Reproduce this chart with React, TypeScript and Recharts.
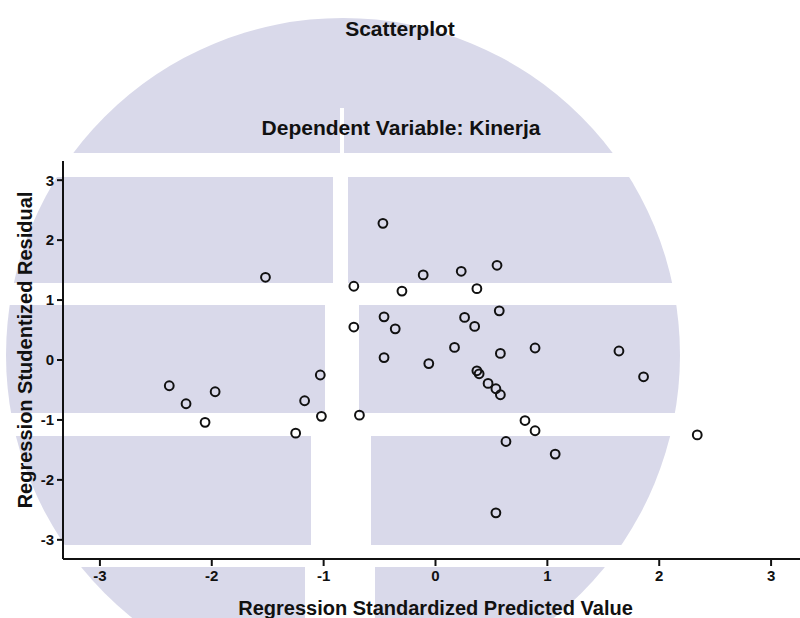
import React from 'react';
import { ScatterChart, Scatter, XAxis, YAxis, Label } from 'recharts';

// Regression standardized predicted value (x) and studentized residual (y)
const predicted = [
  -2.38, -2.23, -2.06, -1.97, -1.52, -1.25, -1.17, -1.03, -1.02, -0.73, -0.73, -0.68, -0.47, -0.46,
  -0.46, -0.36, -0.3, -0.11, -0.06, 0.17, 0.23, 0.26, 0.35, 0.37, 0.55, 0.57, 0.58, 0.37, 0.39, 0.47,
  0.54, 0.58, 0.89, 0.8, 0.89, 0.63, 1.07, 1.64, 1.86, 2.34, 0.54,
];
const residual = [
  -0.43, -0.73, -1.04, -0.53, 1.38, -1.22, -0.68, -0.25, -0.94, 1.23, 0.55, -0.92, 2.28, 0.72,
  0.04, 0.52, 1.15, 1.42, -0.06, 0.21, 1.48, 0.71, 0.56, 1.19, 1.58, 0.82, 0.11, -0.18, -0.23, -0.39,
  -0.48, -0.58, 0.2, -1.01, -1.18, -1.36, -1.57, 0.15, -0.28, -1.25, -2.55,
];
const xTicks = [-3, -2, -1, 0, 1, 2, 3];
const yTicks = [-3, -2, -1, 0, 1, 2, 3];

const points = predicted.map((x, i) => ({ x, y: residual[i] }));

const FONT = '"Liberation Sans", Arial, sans-serif';
const WM = '#d9d9ea';

// background watermark: a disc cut by white bands (y0, y1, gap left, gap right)
const Watermark = () => {
  const bands: [number, number, number, number][] = [
    [0, 108, 800, 800],
    [108, 153, 340, 344],
    [177, 283, 333, 348],
    [305, 413, 325, 359],
    [436, 545, 311, 371],
    [567, 618, 305, 375],
  ];
  return (
    <svg width={800} height={618} style={{ position: 'absolute', left: 0, top: 0 }}>
      <defs>
        <clipPath id="disc">
          <circle cx={343} cy={355} r={337} />
        </clipPath>
      </defs>
      <g clipPath="url(#disc)">
        {bands.map(([y0, y1, g0, g1], i) => (
          <g key={i}>
            <rect x={0} y={y0} width={g0} height={y1 - y0} fill={WM} />
            <rect x={g1} y={y0} width={800 - g1} height={y1 - y0} fill={WM} />
          </g>
        ))}
      </g>
    </svg>
  );
};

const Ring = (props: any) => (
  <circle cx={props.cx} cy={props.cy} r={4.4} fill="none" stroke="#111" strokeWidth={2} />
);

export default function App() {
  return (
    <div style={{ position: 'absolute', left: 0, top: 0, width: 800, height: 618, overflow: 'hidden', background: '#fff' }}>
      <Watermark />
      <svg width={800} height={160} style={{ position: 'absolute', left: 0, top: 0 }}>
        <text x={400} y={36} textAnchor="middle" fontFamily={FONT} fontWeight="bold" fontSize={21} fill="#111">
          Scatterplot
        </text>
        <text x={401} y={135} textAnchor="middle" fontFamily={FONT} fontWeight="bold" fontSize={21} fill="#111">
          Dependent Variable: Kinerja
        </text>
      </svg>
      <div style={{ position: 'absolute', left: 0, top: 0 }}>
        <ScatterChart width={820} height={618} margin={{ top: 161, right: 12, bottom: 0, left: 0 }}>
          <XAxis
            xAxisId="top"
            orientation="top"
            type="number"
            dataKey="x"
            domain={[-3.33, 3.33]}
            height={0}
            tick={false}
            tickLine={false}
            axisLine={{ stroke: '#111', strokeWidth: 2 }}
          />
          <XAxis
            type="number"
            dataKey="x"
            domain={[-3.33, 3.33]}
            ticks={xTicks}
            height={59}
            tickSize={7}
            tickMargin={4}
            axisLine={{ stroke: '#111', strokeWidth: 2 }}
            tickLine={{ stroke: '#111', strokeWidth: 2 }}
            tick={{ fill: '#111', fontFamily: FONT, fontWeight: 'bold', fontSize: 15 }}
          >
            <Label
              value="Regression Standardized Predicted Value"
              position="insideBottom"
              offset={3}
              style={{ fill: '#111', fontFamily: FONT, fontWeight: 'bold', fontSize: 20 }}
            />
          </XAxis>
          <YAxis
            type="number"
            dataKey="y"
            domain={[-3.32, 3.32]}
            ticks={yTicks}
            width={63}
            tickSize={6}
            tickMargin={3}
            axisLine={{ stroke: '#111', strokeWidth: 2 }}
            tickLine={{ stroke: '#111', strokeWidth: 2 }}
            tick={{ fill: '#111', fontFamily: FONT, fontWeight: 'bold', fontSize: 15 }}
          >
            <Label
              content={(p: any) => {
                const vb = p.viewBox || { y: 161, height: 398 };
                const cy = vb.y + vb.height / 2 - 10;
                return (
                  <text
                    x={32}
                    y={cy}
                    transform={`rotate(-90 32 ${cy})`}
                    textAnchor="middle"
                    fontFamily={FONT}
                    fontWeight="bold"
                    fontSize={20}
                    fill="#111"
                  >
                    Regression Studentized Residual
                  </text>
                );
              }}
            />
          </YAxis>
          <Scatter data={points} shape={Ring} isAnimationActive={false} />
        </ScatterChart>
      </div>
    </div>
  );
}
